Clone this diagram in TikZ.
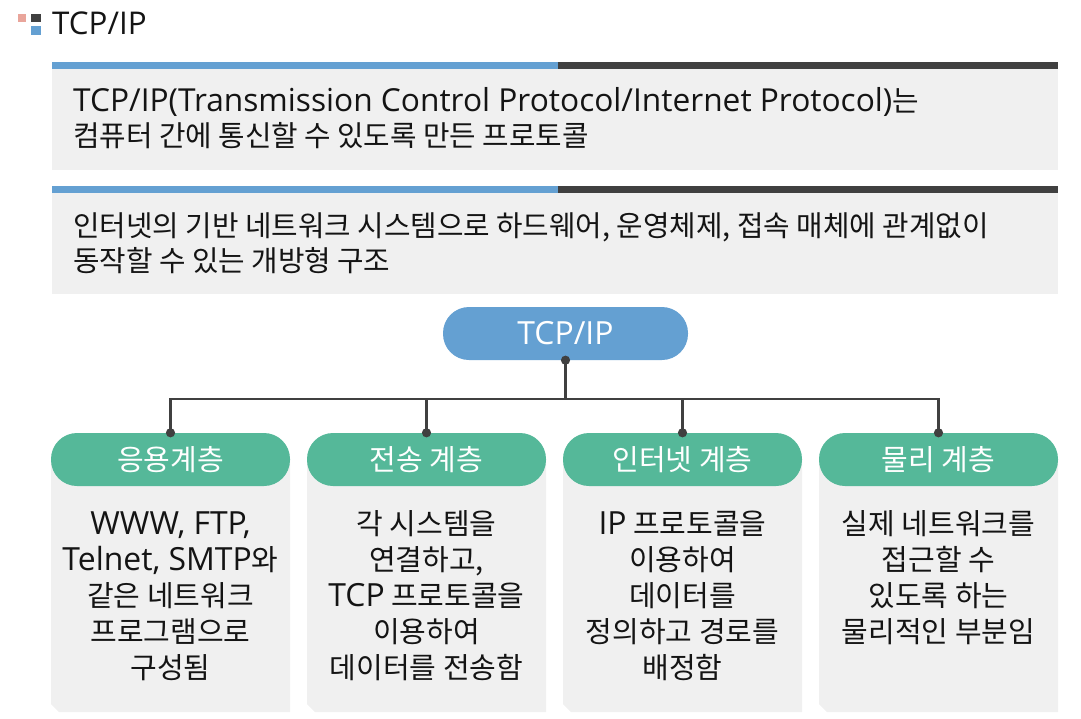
\documentclass[tikz,border=0pt]{standalone}
\usepackage{fontspec}
\setmainfont{Noto Sans CJK KR}
\newfontfamily\latinface[Scale=1.1]{Open Sans}
\newcommand{\lat}[1]{{\latinface #1}}
\definecolor{boxgray}{HTML}{F0F0F0}
\definecolor{barblue}{HTML}{64A0D2}
\definecolor{bardark}{HTML}{404040}
\definecolor{iconpink}{HTML}{E9A59B}
\definecolor{layergreen}{HTML}{55B899}
\definecolor{inktext}{HTML}{141414}
\tikzset{
  panel/.style={fill=boxgray, draw=none, inner sep=0pt, anchor=north west},
  bodytext/.style={text=inktext, align=left, anchor=west, inner sep=0pt,
    font=\fontsize{28.8}{34.5}\selectfont},
  rootpill/.style={fill=barblue, draw=none, rounded corners=26pt,
    minimum width=245pt, minimum height=53pt, inner sep=0pt, text=white,
    font=\fontsize{29}{32}\selectfont\latinface},
  layerpill/.style={fill=layergreen, draw=none, rounded corners=26pt,
    minimum width=239pt, minimum height=53pt, inner sep=0pt, text=white,
    font=\fontsize{29}{32}\selectfont},
  layertext/.style={text=inktext, align=center, inner sep=0pt,
    font=\fontsize{29}{36}\selectfont},
  conn/.style={draw=bardark, line width=2.4pt},
  joint/.style={fill=bardark},
}
\begin{document}
\begin{tikzpicture}[x=1pt,y=-1pt]
\useasboundingbox (0,0) rectangle (1081,718);

% heading mark and title
\fill[iconpink] (18,14) rectangle (26,22);
\fill[bardark] (31,14) rectangle (41,22);
\fill[barblue] (31,26) rectangle (41,35);
\node[anchor=base west, inner sep=0pt, text=inktext,
  font=\fontsize{28.5}{34}\selectfont\latinface] (title) at (52,34) {TCP/IP};

% definition panel
\node[panel, minimum width=1006pt, minimum height=108pt] (def) at (52,62) {};
\fill[barblue] (def.north west) rectangle ++(506,7);
\fill[bardark] (def.north west) ++(506,0) rectangle (def.north east |- 0,69);
\node[bodytext] (deftext) at (73,118)
  {\lat{TCP/IP(Transmission Control Protocol/Internet Protocol)}는\\
   컴퓨터 간에 통신할 수 있도록 만든 프로토콜};

% feature panel
\node[panel, minimum width=1006pt, minimum height=108pt] (feat) at (52,186) {};
\fill[barblue] (feat.north west) rectangle ++(506,7);
\fill[bardark] (feat.north west) ++(506,0) rectangle (feat.north east |- 0,193);
\node[bodytext] (feattext) at (73,243)
  {인터넷의 기반 네트워크 시스템으로 하드웨어, 운영체제, 접속 매체에 관계없이\\
   동작할 수 있는 개방형 구조};

% layer cards (gray bodies with a clipped lower-left corner)
\foreach \cx in {170.5,426.5,682.5,938.5}{
  \fill[boxgray] (\cx-119.5,460) -- (\cx+119.5,460) -- (\cx+119.5,712)
    -- (\cx-111.5,712) -- (\cx-119.5,704) -- cycle;
}

% root and layer pills
\node[rootpill] (tcp) at (565.5,333.5) {TCP/IP};
\node[layerpill] (l1) at (170.5,459.5) {응용계층};
\node[layerpill] (l2) at (426.5,459.5) {전송 계층};
\node[layerpill] (l3) at (682.5,459.5) {인터넷 계층};
\node[layerpill] (l4) at (938.5,459.5) {물리 계층};

% tree connectors
\draw[conn] (tcp.south) -- ++(0,39) coordinate (hub);
\draw[conn] (l1.north) -- (l1.north |- hub) -- (l4.north |- hub) -- (l4.north);
\draw[conn] (l2.north) -- (l2.north |- hub);
\draw[conn] (l3.north) -- (l3.north |- hub);
\foreach \n in {tcp.south,l1.north,l2.north,l3.north,l4.north}
  \fill[joint] (\n) circle (4.6pt);

% layer descriptions
\node[layertext] (d1) at (170.5,596)
  {\lat{WWW, FTP,}\\\lat{Telnet, SMTP}와\\같은 네트워크\\프로그램으로\\구성됨};
\node[layertext] (d2) at (426.5,596)
  {각 시스템을\\연결하고,\\\lat{TCP} 프로토콜을\\이용하여\\데이터를 전송함};
\node[layertext] (d3) at (682.5,596)
  {\lat{IP} 프로토콜을\\이용하여\\데이터를\\정의하고 경로를\\배정함};
\node[layertext] (d4) at (938.5,578)
  {실제 네트워크를\\접근할 수\\있도록 하는\\물리적인 부분임};
\end{tikzpicture}
\end{document}
